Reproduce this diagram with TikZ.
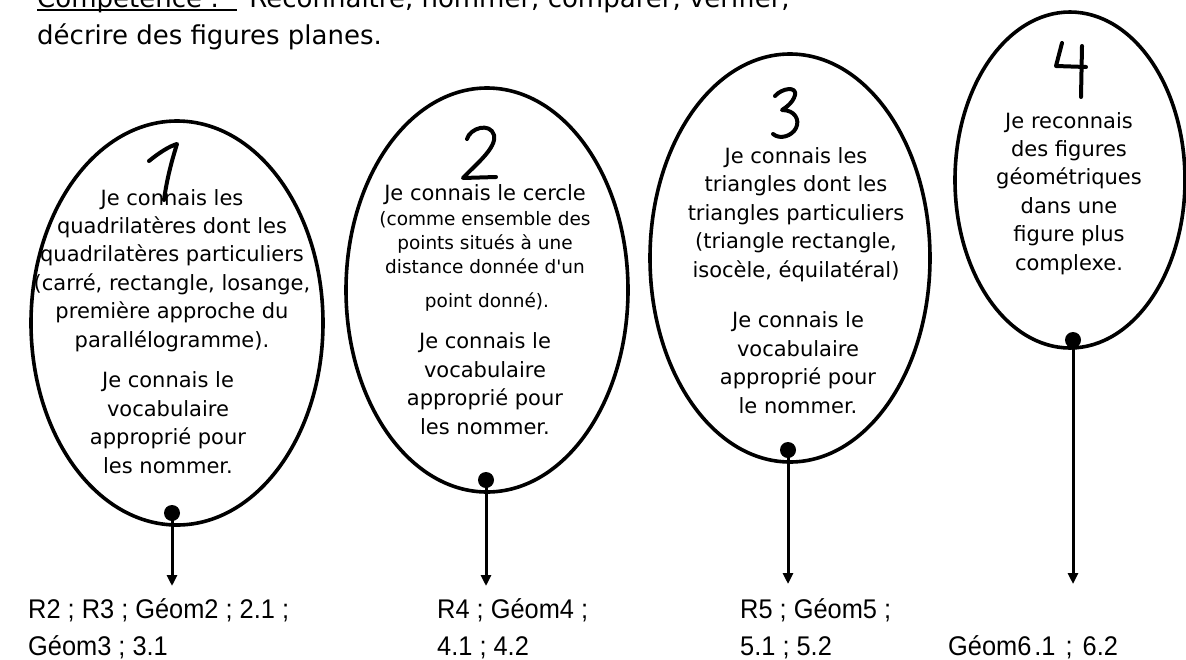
\documentclass[tikz,border=0pt]{standalone}
\usepackage{fontspec}
\setmainfont{DejaVu Sans}[Ligatures=TeXOff]
\newfontfamily\arialf{Liberation Sans}[FakeStretch=0.94]
\usetikzlibrary{shapes.geometric,arrows.meta}
\begin{document}
\begin{tikzpicture}[x=1pt,y=-1pt,
  oval/.style={ellipse,draw,line width=3.6pt,inner sep=0pt,outer sep=0pt},
  body/.style={align=center,anchor=base,inner sep=0pt,font=\fontsize{21}{28.4}\selectfont},
  small/.style={align=center,anchor=base,inner sep=0pt,font=\fontsize{18.5}{24}\selectfont},
  dotnode/.style={circle,fill,inner sep=0pt,minimum size=16pt},
  link/.style={line width=3pt,-{Triangle[width=10pt,length=11pt]}},
  digit/.style={line width=4pt,line cap=round,line join=round},
  ref/.style={anchor=base west,inner sep=0pt,align=left,font=\arialf\fontsize{27}{37}\selectfont},
  head/.style={anchor=base west,inner sep=0pt,font=\fontsize{26}{37}\selectfont}]
\useasboundingbox (0,0) rectangle (1186,659);

% header
\node[head] (c1) at (37,7) {Compétence :\kern18pt};
\node[head] (c2) at ([xshift=12pt]c1.base east) {Reconnaître, nommer, comparer, vérifier,};
\draw[line width=2pt] ([yshift=-3pt]c1.base west) -- ([yshift=-3pt]c1.base east);
\node[head] (c3) at (37,44) {décrire des figures planes.};

% ellipses
\node[oval,minimum width=292pt,minimum height=404pt] (e1) at (177,323) {};
\node[oval,minimum width=282pt,minimum height=404pt] (e2) at (487,290) {};
\node[oval,minimum width=280pt,minimum height=408pt] (e3) at (790,258) {};
\node[oval,minimum width=230pt,minimum height=336pt] (e4) at (1070,180) {};

% handwritten digits
\draw[digit] (149,161) .. controls (160,152) and (170,146) .. (177,144) .. controls (172,160) and (167,178) .. (164,200);
\draw[digit] (467,139) .. controls (470,128) and (490,122) .. (494,135) .. controls (497,148) and (475,165) .. (463,178) -- (496,177);
\draw[digit] (775,96) .. controls (782,88) and (797,86) .. (795,95) .. controls (793,103) and (785,108) .. (782,110) .. controls (795,110) and (800,120) .. (796,128) .. controls (792,136) and (780,140) .. (773,134);
\draw[digit] (1062,43) -- (1056,66) -- (1086,67);
\draw[digit] (1082,46) -- (1081,97);

% texts (base anchor = last line's baseline)
\node[body] (t1a) at (172,347) {Je connais les\\quadrilatères dont les\\quadrilatères particuliers\\(carré, rectangle, losange,\\première approche du\\parallélogramme).};
\node[body] (t1b) at (168,473) {Je connais le\\vocabulaire\\approprié pour\\les nommer.};

\node[body] (t2a) at (485,200) {Je connais le cercle};
\node[small] (t2b) at (485,273) {(comme ensemble des\\points situés à une\\distance donnée d'un};
\node[small] (t2c) at (487,307) {point donné).};
\node[body] (t2d) at (485,434) {Je connais le\\vocabulaire\\approprié pour\\les nommer.};

\node[body] (t3a) at (796,277) {Je connais les\\triangles dont les\\triangles particuliers\\(triangle rectangle,\\isocèle, équilatéral)};
\node[body] (t3b) at (798,413) {Je connais le\\vocabulaire\\approprié pour\\le nommer.};

\node[body] (t4) at (1069,270) {Je reconnais\\des figures\\géométriques\\dans une\\figure plus\\complexe.};

% dots and arrows
\node[dotnode] (d1) at (172,513) {};
\node[dotnode] (d2) at (486,480) {};
\node[dotnode] (d3) at (788,450) {};
\node[dotnode] (d4) at (1073,340) {};
\coordinate (a1) at (172,586);
\coordinate (a2) at (486,586);
\coordinate (a3) at (788,584);
\coordinate (a4) at (1073,584);
\draw[link] (d1.center) -- (a1);
\draw[link] (d2.center) -- (a2);
\draw[link] (d3.center) -- (a3);
\draw[link] (d4.center) -- (a4);

% references
\node[ref] (r1) at (28,655) {R2 ; R3 ; Géom2 ; 2.1 ;\\Géom3 ; 3.1};
\node[ref] (r2) at (437,655) {R4 ; Géom4 ;\\4.1 ; 4.2};
\node[ref] (r3) at (740,655) {R5 ; Géom5 ;\\5.1 ; 5.2};
\node[ref] (r4) at (948,655) {Géom6\kern3pt.1\hspace{10pt};\hspace{10pt}6.2};
\end{tikzpicture}
\end{document}
